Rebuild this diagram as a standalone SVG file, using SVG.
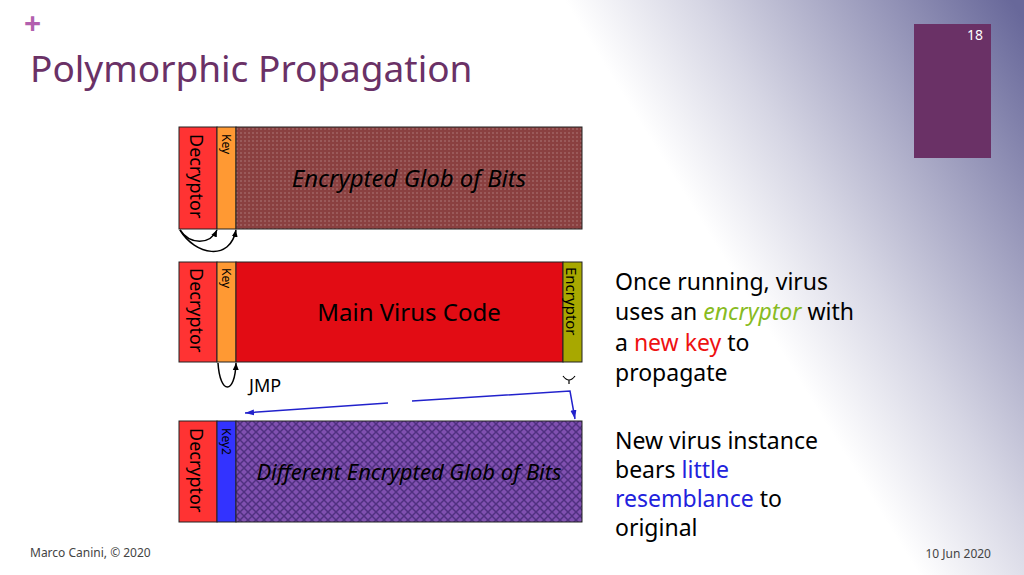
<svg xmlns="http://www.w3.org/2000/svg" width="1024" height="575" viewBox="0 0 1024 575">
<defs>
<linearGradient id="bg" gradientUnits="userSpaceOnUse" x1="700" y1="220" x2="1024" y2="20">
<stop offset="0" stop-color="#ffffff"/><stop offset="0.3" stop-color="#d6d6e4"/><stop offset="1" stop-color="#68689a"/>
</linearGradient>
<pattern id="dots" width="4" height="4" patternUnits="userSpaceOnUse"><rect width="4" height="4" fill="#8a4040"/><rect width="2" height="2" fill="#9a5a5a"/></pattern>
<pattern id="hatch" width="8" height="8" patternUnits="userSpaceOnUse"><rect width="8" height="8" fill="#8050b0"/><path d="M0 0L8 8M8 0L0 8" stroke="#503080" stroke-width="1.5"/></pattern>
<marker id="ab" markerWidth="8" markerHeight="8" refX="7" refY="4" orient="auto" markerUnits="userSpaceOnUse"><path d="M0 1L7 4L0 7z" fill="#000"/></marker>
<marker id="ablue" markerWidth="10" markerHeight="8" refX="9" refY="4" orient="auto" markerUnits="userSpaceOnUse"><path d="M0 1L9 4L0 7z" fill="#2222cc"/></marker>
</defs>
<style>
.t{font-family:"Noto Sans","Open Sans",sans-serif}
.b{stroke:#222;stroke-width:1}
.s{font-family:"Noto Sans","Open Sans",sans-serif;font-size:23px}
</style>
<rect width="1024" height="575" fill="#fff"/>
<rect width="1024" height="575" fill="url(#bg)"/>
<rect x="914" y="24" width="77" height="134" fill="#6a3166"/>
<text class="t" x="983" y="40" font-size="14" fill="#fff" text-anchor="end">18</text>
<text class="t" x="24" y="34" font-size="30" font-weight="bold" fill="#b25fae">+</text>
<text class="t" x="30" y="82" font-size="37" fill="#6a3166">Polymorphic Propagation</text>

<g id="block1">
<rect class="b" x="179" y="127" width="38" height="102" fill="#ff3333"/>
<rect class="b" x="217" y="127" width="19" height="102" fill="#ff9933"/>
<rect class="b" x="236" y="127" width="346" height="102" fill="url(#dots)"/>
<text class="t" transform="translate(190,134) rotate(90)" font-size="18">Decryptor</text>
<text class="t" transform="translate(222,134) rotate(90)" font-size="12">Key</text>
<text class="t" x="409" y="187" font-size="24" font-style="italic" text-anchor="middle">Encrypted Glob of Bits</text>
</g>
<g id="block2">
<rect class="b" x="179" y="262" width="38" height="100" fill="#ff3333"/>
<rect class="b" x="217" y="262" width="19" height="100" fill="#ff9933"/>
<rect class="b" x="236" y="262" width="327" height="100" fill="#e20c14"/>
<rect class="b" x="563" y="262" width="19" height="100" fill="#a8a800"/>
<text class="t" transform="translate(190,268) rotate(90)" font-size="18">Decryptor</text>
<text class="t" transform="translate(222,268) rotate(90)" font-size="12">Key</text>
<text class="t" transform="translate(566,267) rotate(90)" font-size="15">Encryptor</text>
<text class="t" x="409" y="321" font-size="24" text-anchor="middle">Main Virus Code</text>
</g>
<g id="block3">
<rect class="b" x="179" y="421" width="38" height="101" fill="#ff3333"/>
<rect class="b" x="217" y="421" width="19" height="101" fill="#3333ff"/>
<rect class="b" x="236" y="421" width="346" height="101" fill="url(#hatch)"/>
<text class="t" transform="translate(190,428) rotate(90)" font-size="18">Decryptor</text>
<text class="t" transform="translate(222,428) rotate(90)" font-size="12">Key2</text>
<text class="t" x="409" y="480" font-size="22" font-style="italic" text-anchor="middle">Different Encrypted Glob of Bits</text>
</g>
<g id="connectors" fill="none">
<path d="M180 230C190 245 210 245 217 230" stroke="#000" stroke-width="1.5" marker-end="url(#ab)"/>
<path d="M180 230C195 255 230 262 236 230" stroke="#000" stroke-width="1.5" marker-end="url(#ab)"/>
<path d="M218 363C220 395 235 395 236 363" stroke="#000" stroke-width="1.5" marker-end="url(#ab)"/>
<path d="M563 376q3 4 6 4q3 0 6 -4M569 380v4" stroke="#000" stroke-width="1.2"/>
<path d="M388 403L245 413" stroke="#2222cc" stroke-width="1.5" marker-end="url(#ablue)"/>
<path d="M412 401L570 391L575 419" stroke="#2222cc" stroke-width="1.5" marker-end="url(#ablue)"/>
</g>
<text class="t" x="249" y="392" font-size="18">JMP</text>
<g>
<text class="s" x="615" y="290">Once running, virus</text>
<text class="s" x="615" y="320">uses an <tspan fill="#88bb22" font-style="italic">encryptor</tspan> with</text>
<text class="s" x="615" y="351">a <tspan fill="#ee1111">new key</tspan> to</text>
<text class="s" x="615" y="381">propagate</text>
<text class="s" x="615" y="449">New virus instance</text>
<text class="s" x="615" y="478">bears <tspan fill="#2222dd">little</tspan></text>
<text class="s" x="615" y="507"><tspan fill="#2222dd">resemblance</tspan> to</text>
<text class="s" x="615" y="536">original</text>
</g>
<text class="t" x="30" y="557" font-size="12" fill="#444">Marco Canini, © 2020</text>
<text class="t" x="991" y="558" font-size="12" fill="#444" text-anchor="end">10 Jun 2020</text>
</svg>
